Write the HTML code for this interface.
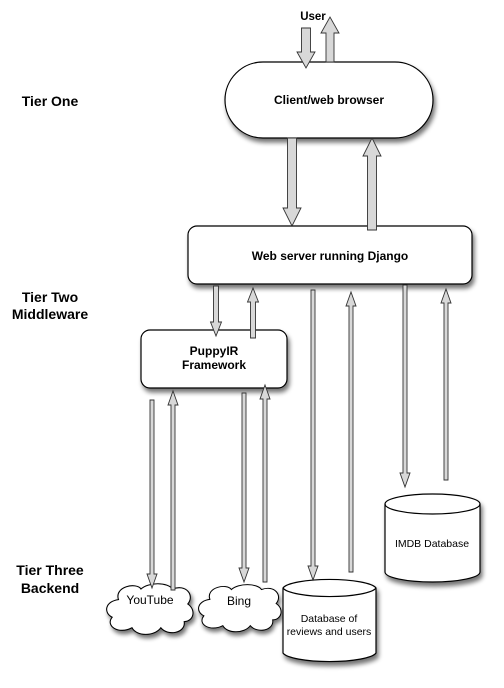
<!DOCTYPE html>
<html><head><meta charset="utf-8"><style>
html,body{margin:0;padding:0;background:#fff;}
svg{display:block;}
text{font-family:"Liberation Sans",Arial,sans-serif;fill:#000;}
.b{font-weight:bold;}
</style></head><body>
<svg id="s" width="504" height="688" viewBox="0 0 504 688" xmlns="http://www.w3.org/2000/svg">
<defs>
<filter id="sh" x="-20%" y="-20%" width="150%" height="160%">
<feGaussianBlur in="SourceAlpha" stdDeviation="2.5"/>
<feOffset dx="2" dy="4" result="o"/>
<feComponentTransfer><feFuncA type="linear" slope="0.55"/></feComponentTransfer>
<feMerge><feMergeNode/><feMergeNode in="SourceGraphic"/></feMerge>
</filter>
</defs>
<g id="shapes" stroke="#000" stroke-width="1.2" fill="#fff">
<rect x="225" y="62" width="208" height="76" rx="38" filter="url(#sh)"/>
<rect x="188" y="226" width="284" height="58" rx="9" filter="url(#sh)"/>
<rect x="141" y="330" width="146" height="58" rx="9" filter="url(#sh)"/>
<path filter="url(#sh)" transform="translate(105,582) scale(0.9,0.88)" d="M15,20 C10,5 35,0 40,8 C48,0 70,0 75,8 C90,2 100,15 92,25 C102,32 98,45 88,45 C90,58 70,62 62,52 C55,62 35,62 30,52 C15,60 0,50 8,40 C-2,35 0,22 15,20 Z"/>
<path filter="url(#sh)" transform="translate(197,583) scale(0.86,0.82)" d="M15,20 C10,5 35,0 40,8 C48,0 70,0 75,8 C90,2 100,15 92,25 C102,32 98,45 88,45 C90,58 70,62 62,52 C55,62 35,62 30,52 C15,60 0,50 8,40 C-2,35 0,22 15,20 Z"/>
<path filter="url(#sh)" d="M283,588 A47,10 0 0 1 376,588 L376,653 A47,10 0 0 1 283,653 Z"/>
<path fill="none" d="M283,588 A47,10 0 0 0 376,588"/>
<path filter="url(#sh)" d="M385,504 A47.5,10 0 0 1 480,504 L480,572 A47.5,10 0 0 1 385,572 Z"/>
<path fill="none" d="M385,504 A47.5,10 0 0 0 480,504"/>
</g>
<g id="arr" fill="#d8d8d8" stroke="#333" stroke-width="0.9"></g>
<text class="b" x="313" y="20" font-size="11.5" text-anchor="middle">User</text>
<text class="b" x="329" y="104" font-size="12" text-anchor="middle">Client/web browser</text>
<text class="b" x="330" y="260" font-size="12" text-anchor="middle">Web server running Django</text>
<text class="b" x="214" y="355" font-size="12" text-anchor="middle">PuppyIR</text>
<text class="b" x="214" y="369" font-size="12" text-anchor="middle">Framework</text>
<text x="150" y="604" font-size="12" text-anchor="middle">YouTube</text>
<text x="239" y="605" font-size="12" text-anchor="middle">Bing</text>
<text x="329" y="622" font-size="10.5" text-anchor="middle">Database of</text>
<text x="329" y="635" font-size="10.5" text-anchor="middle">reviews and users</text>
<text x="432" y="547" font-size="10.5" text-anchor="middle">IMDB Database</text>
<text class="b" x="50" y="106" font-size="14" text-anchor="middle">Tier One</text>
<text class="b" x="50" y="302" font-size="14" text-anchor="middle">Tier Two</text>
<text class="b" x="50" y="319" font-size="14" text-anchor="middle">Middleware</text>
<text class="b" x="50" y="575" font-size="14" text-anchor="middle">Tier Three</text>
<text class="b" x="50" y="593" font-size="14" text-anchor="middle">Backend</text>
</svg>
<script>
var A=[[306,28,68,9,18,16],[330,62,17,8,18,16],[292,138,226,9,18,18],[372,230,138,9,18,18],
[216,286,336,5,11,14],[253,338,288,5,11,14],
[313,290,580,4,10,14],[351,572,292,4,10,14],[405,285,487,4,10,14],[446,480,289,4,10,14],
[152,400,588,4,10,14],[173,590,391,4,10,14],[244,393,582,4,10,14],[265,582,385,4,10,14]];
var g=document.getElementById('arr'),h='';
A.forEach(function(a){var c=a[0],y1=a[1],y2=a[2],w=a[3]/2,hw=a[4]/2,hl=a[5];
var d=y2>y1?1:-1,b=y2-d*hl;
var p=[[c-w,y1],[c+w,y1],[c+w,b],[c+hw,b],[c,y2],[c-hw,b],[c-w,b]];
h+='<polygon points="'+p.map(function(q){return q.join(',')}).join(' ')+'"/>';});
g.innerHTML=h;
</script>
</body></html>
